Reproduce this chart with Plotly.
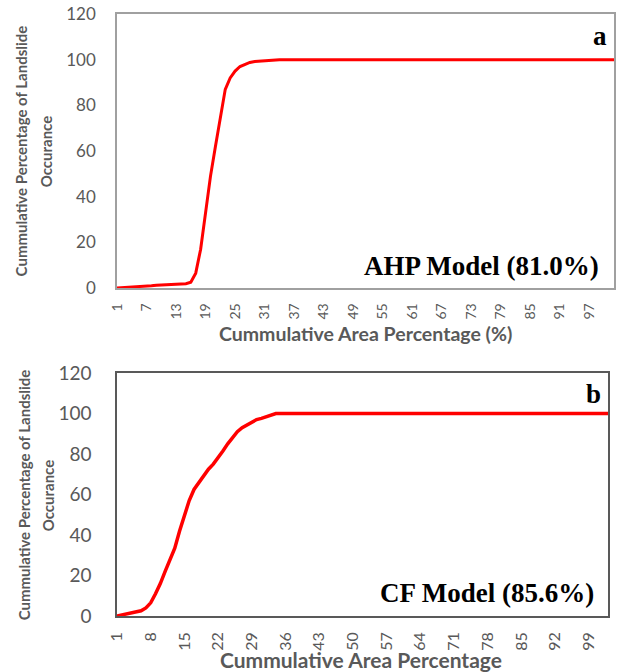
import plotly.graph_objects as go

# ---------------- data ----------------
area_a = list(range(1, 103))
occ_a = [0, 0.1, 0.2, 0.3, 0.45, 0.6, 0.8, 1.0, 1.2, 1.35,
         1.5, 1.6, 1.7, 1.8, 1.9, 2.5, 6.5, 17, 34, 49,
         62, 75, 87, 92, 95, 97, 98, 98.8, 99.2, 99.4,
         99.6, 99.8, 99.9, 100, 100, 100, 100, 100, 100, 100,
         100, 100, 100, 100, 100, 100, 100, 100, 100, 100,
         100, 100, 100, 100, 100, 100, 100, 100, 100, 100,
         100, 100, 100, 100, 100, 100, 100, 100, 100, 100,
         100, 100, 100, 100, 100, 100, 100, 100, 100, 100,
         100, 100, 100, 100, 100, 100, 100, 100, 100, 100,
         100, 100, 100, 100, 100, 100, 100, 100, 100, 100,
         100, 100]

area_b = list(range(1, 104))
occ_b = [0, 0.5, 1.0, 1.5, 2.0, 2.6, 4, 6.5, 11, 16,
         22, 27.5, 33.5, 42, 50, 57, 62.5, 66, 69.5, 72.5,
         75, 78, 81.5, 85, 88, 91, 93, 94.5, 96, 97,
         97.6, 98.5, 99.3, 100, 100, 100, 100, 100, 100, 100,
         100, 100, 100, 100, 100, 100, 100, 100, 100, 100,
         100, 100, 100, 100, 100, 100, 100, 100, 100, 100,
         100, 100, 100, 100, 100, 100, 100, 100, 100, 100,
         100, 100, 100, 100, 100, 100, 100, 100, 100, 100,
         100, 100, 100, 100, 100, 100, 100, 100, 100, 100,
         100, 100, 100, 100, 100, 100, 100, 100, 100, 100,
         100, 100, 100]

ticks_a = [1, 7, 13, 19, 25, 31, 37, 43, 49, 55, 61, 67, 73, 79, 85, 91, 97]
ticks_b = [1, 8, 15, 22, 29, 36, 43, 50, 57, 64, 71, 78, 85, 92, 99]
y_ticks = [0, 20, 40, 60, 80, 100, 120]

y_title_1 = "Cummulative Percentage of Landslide"
y_title_2 = "Occurance"
x_title_a = "Cummulative Area Percentage (%)"
x_title_b = "Cummulative Area Percentage"
label_a = "a"
label_b = "b"
model_a = "AHP Model (81.0%)"
model_b = "CF Model (85.6%)"

# ---------------- layout helpers (screen pixels -> paper) ----------------
W, H = 618, 672
L, R, T, B = 117, 2, 14, 672 - 616
PW = W - L - R
PH = H - T - B


def px(xs):
    return (xs - L) / PW


def py(ys):
    return (H - B - ys) / PH


SANS = "Lato"
SERIF = "Liberation Serif"
TICK = "#595959"

fig = go.Figure()
fig.add_trace(go.Scatter(x=area_a, y=occ_a, mode="lines",
                         line=dict(color="#ff0000", width=3),
                         xaxis="x", yaxis="y", showlegend=False))
fig.add_trace(go.Scatter(x=area_b, y=occ_b, mode="lines",
                         line=dict(color="#ff0000", width=3.5),
                         xaxis="x2", yaxis="y2", showlegend=False))

fig.update_layout(
    width=W, height=H,
    margin=dict(l=L, r=R, t=T, b=B),
    paper_bgcolor="white", plot_bgcolor="white",
    xaxis=dict(domain=[0, 1], anchor="y", range=[1, 102],
               tickvals=ticks_a, tickangle=-90, showgrid=False, zeroline=False,
               showline=True, linecolor="#a0a0a0", linewidth=1.5, mirror=True,
               ticks="", ticklabelstandoff=8,
               tickfont=dict(family=SANS, size=14, color=TICK)),
    yaxis=dict(domain=[py(288), 1], anchor="x", range=[0, 120],
               tickvals=y_ticks, showgrid=False, zeroline=False,
               showline=True, linecolor="#a0a0a0", linewidth=1.5, mirror=True,
               ticks="", ticklabelstandoff=16,
               tickfont=dict(family=SANS, size=17, color=TICK)),
    xaxis2=dict(domain=[0, px(610)], anchor="y2", range=[1, 103],
                tickvals=ticks_b, tickangle=-90, showgrid=False, zeroline=False,
                showline=True, linecolor="#595959", linewidth=1.5, mirror=True,
                ticks="", ticklabelstandoff=8,
                tickfont=dict(family=SANS, size=16, color=TICK)),
    yaxis2=dict(domain=[0, py(373)], anchor="x2", range=[0, 120],
                tickvals=y_ticks, showgrid=False, zeroline=False,
                showline=True, linecolor="#595959", linewidth=1.5, mirror=True,
                ticks="", ticklabelstandoff=20,
                tickfont=dict(family=SANS, size=19, color=TICK)),
)

ann = []
# panel labels and model names
ann.append(dict(text="<b>" + label_a + "</b>", x=px(611), y=py(36), xanchor="right", yanchor="middle",
                font=dict(family=SERIF, size=27, color="black")))
ann.append(dict(text="<b>" + model_a + "</b>", x=px(603), y=py(266), xanchor="right", yanchor="middle",
                font=dict(family=SERIF, size=27, color="black")))
ann.append(dict(text="<b>" + label_b + "</b>", x=px(605), y=py(394), xanchor="right", yanchor="middle",
                font=dict(family=SERIF, size=27, color="black")))
ann.append(dict(text="<b>" + model_b + "</b>", x=px(598), y=py(593), xanchor="right", yanchor="middle",
                font=dict(family=SERIF, size=27, color="black")))
# x titles
ann.append(dict(text="<b>" + x_title_a + "</b>", x=px(366), y=py(333), xanchor="center", yanchor="middle",
                font=dict(family=SANS, size=19.5, color=TICK)))
ann.append(dict(text="<b>" + x_title_b + "</b>", x=px(362), y=py(659), xanchor="center", yanchor="middle",
                font=dict(family=SANS, size=21, color=TICK)))
# y titles (two lines each)
for xs1, xs2, ys in [(21, 46, 151), (24, 48, 495)]:
    ann.append(dict(text="<b>" + y_title_1 + "</b>", x=px(xs1), y=py(ys), xanchor="center", yanchor="middle",
                    textangle=-90, font=dict(family=SANS, size=15, color=TICK)))
    ann.append(dict(text="<b>" + y_title_2 + "</b>", x=px(xs2), y=py(ys), xanchor="center", yanchor="middle",
                    textangle=-90, font=dict(family=SANS, size=15, color=TICK)))

for a in ann:
    a.update(xref="paper", yref="paper", showarrow=False)
fig.update_layout(annotations=ann)

fig.write_html("out.html", config={"displayModeBar": False},
               post_script="document.body.style.margin='0';")
